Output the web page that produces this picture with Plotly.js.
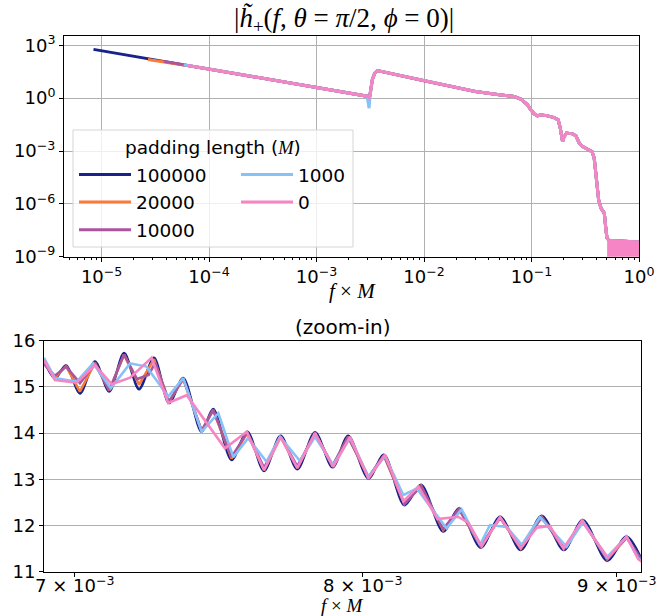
<!DOCTYPE html>
<html><head><meta charset="utf-8">
<script src="https://cdn.plot.ly/plotly-3.0.1.min.js"></script>
<style>html,body{margin:0;padding:0;background:#fff}</style>
</head><body>
<div id="chart" style="width:667px;height:616px"></div>
<script>
// ---------- series ----------
const seriesNames = ['100000', '20000', '10000', '1000', '0'];
const seriesColors = ['#18228a', '#f97b3a', '#a9569f', '#86c1f7', '#f585c4'];

// ---------- top panel: |h+(f)| ----------
const startF = [8.4e-6, 2.7e-5, 3.8e-5, 5.8e-5, 6.3e-5];
const startH = [590, 156, 123, 80, 72];
const lowF = [1e-4, 1e-3, 2.95e-3];
const lowH = [45, 4.1, 1.3];
const dipF = 3.08e-3;
const dipH = [0.85, 0.75, 0.8, 0.27, 1.05];
const highF = [3.15e-3, 3.30e-3, 3.47e-3, 3.68e-3, 1e-2, 3e-2, 5e-2, 6.9e-2, 7.95e-2, 9.18e-2, 9.85e-2,
  0.1057, 0.1137, 0.122, 0.141, 0.1625, 0.177, 0.185, 0.1945, 0.201, 0.212, 0.241, 0.259, 0.278,
  0.299, 0.3326, 0.365, 0.383, 0.3975, 0.421, 0.4426, 0.4753, 0.4926, 0.5035, 0.5285, 0.972, 1.0];
const highH = [1.6, 11, 26, 37, 9.6, 2.4, 1.55, 1.23, 0.88, 0.42, 0.22,
  0.13, 0.099, 0.113, 0.099, 0.079, 0.059, 0.020, 0.0035, 0.0066, 0.0104, 0.0094, 0.0073, 0.0028,
  0.0018, 0.00128, 0.00093, 0.0004, 3.5e-5, 1.7e-6, 5.8e-7, 3.0e-7, 3.4e-8, 1.15e-8, 8.3e-9, 6.8e-9, 6.8e-9];
const noiseF = [0.505, 0.53, 0.6, 0.7, 0.8, 0.9, 1.0];
const noiseHi = [9e-9, 8.3e-9, 7.8e-9, 7.4e-9, 7.0e-9, 6.9e-9, 6.8e-9];
const noiseLo = [1e-10, 1e-10, 1e-10, 1e-10, 1e-10, 1e-10, 1e-10];

// ---------- bottom panel: zoom-in ----------
const zF_100000 = [6.900e-3, 6.936e-3, 6.972e-3, 7.017e-3, 7.066e-3, 7.113e-3, 7.162e-3, 7.212e-3, 7.262e-3,
  7.313e-3, 7.361e-3, 7.424e-3, 7.464e-3, 7.528e-3, 7.583e-3, 7.642e-3, 7.701e-3, 7.761e-3, 7.825e-3,
  7.889e-3, 7.946e-3, 8.021e-3, 8.079e-3, 8.156e-3, 8.219e-3, 8.304e-3, 8.365e-3, 8.450e-3, 8.526e-3,
  8.608e-3, 8.692e-3, 8.782e-3, 8.859e-3, 8.960e-3, 9.041e-3, 9.118e-3];
const zH_100000 = [15.58, 15.19, 15.47, 14.86, 15.55, 14.90, 15.73, 14.95, 15.63,
  14.65, 15.19, 14.03, 14.52, 13.42, 14.03, 13.18, 13.94, 13.22, 14.02,
  13.26, 13.94, 13.02, 13.53, 12.44, 12.88, 11.87, 12.37, 11.52, 12.19,
  11.47, 12.21, 11.47, 12.12, 11.24, 11.76, 11.10];

const zF_20000 = zF_100000.slice();
const zH_20000 = [15.55, 15.20, 15.45, 14.90, 15.52, 14.92, 15.70, 15.05, 15.60,
  14.68, 15.17, 14.05, 14.50, 13.45, 14.00, 13.20, 13.92, 13.25, 14.00,
  13.28, 13.92, 13.04, 13.51, 12.47, 12.86, 11.90, 12.35, 11.55, 12.17,
  11.50, 12.19, 11.50, 12.10, 11.27, 11.74, 11.12];

const zF_10000 = [6.900e-3, 6.936e-3, 6.972e-3, 7.017e-3, 7.066e-3, 7.113e-3, 7.162e-3, 7.205e-3, 7.244e-3, 7.266e-3,
  7.313e-3, 7.361e-3, 7.424e-3, 7.464e-3, 7.528e-3, 7.583e-3, 7.642e-3, 7.701e-3, 7.761e-3, 7.825e-3,
  7.889e-3, 7.946e-3, 8.021e-3, 8.079e-3, 8.156e-3, 8.219e-3, 8.304e-3, 8.365e-3, 8.450e-3, 8.526e-3,
  8.608e-3, 8.692e-3, 8.782e-3, 8.859e-3, 8.960e-3, 9.041e-3, 9.118e-3];
const zH_10000 = [15.50, 15.24, 15.44, 15.08, 15.50, 14.93, 15.70, 15.17, 15.26, 15.52,
  14.68, 15.18, 14.05, 14.50, 13.48, 14.02, 13.25, 13.93, 13.28, 14.00,
  13.30, 13.92, 13.05, 13.52, 12.47, 12.85, 11.92, 12.36, 11.55, 12.17,
  11.52, 12.18, 11.50, 12.10, 11.28, 11.74, 11.15];

const zF_1000 = [6.901e-3, 6.936e-3, 7.006e-3, 7.060e-3, 7.118e-3, 7.182e-3, 7.237e-3, 7.310e-3, 7.361e-3,
  7.424e-3, 7.482e-3, 7.534e-3, 7.586e-3, 7.651e-3, 7.699e-3, 7.770e-3, 7.825e-3, 7.891e-3, 7.953e-3,
  8.021e-3, 8.083e-3, 8.152e-3, 8.203e-3, 8.317e-3, 8.375e-3, 8.447e-3, 8.486e-3, 8.552e-3, 8.612e-3,
  8.685e-3, 8.793e-3, 8.861e-3, 8.958e-3, 9.041e-3, 9.090e-3, 9.115e-3];
const zH_1000 = [15.63, 15.19, 15.11, 15.51, 14.97, 15.51, 15.44, 14.79, 15.19,
  14.03, 14.43, 13.48, 13.89, 13.38, 13.92, 13.40, 13.92, 13.31, 13.89,
  13.06, 13.50, 12.66, 12.80, 11.94, 12.35, 11.58, 12.01, 11.97, 11.58,
  12.18, 11.54, 12.08, 11.31, 11.76, 11.29, 11.20];

const zF_0 = [6.901e-3, 6.936e-3, 7.006e-3, 7.066e-3, 7.121e-3, 7.182e-3, 7.254e-3, 7.310e-3, 7.373e-3,
  7.505e-3, 7.581e-3, 7.642e-3, 7.701e-3, 7.761e-3, 7.825e-3, 7.891e-3, 7.953e-3, 8.021e-3, 8.083e-3,
  8.152e-3, 8.209e-3, 8.282e-3, 8.361e-3, 8.401e-3, 8.454e-3, 8.526e-3, 8.608e-3, 8.672e-3, 8.725e-3,
  8.780e-3, 8.855e-3, 8.963e-3, 9.041e-3, 9.090e-3, 9.115e-3];
const zH_0 = [15.58, 15.15, 15.09, 15.47, 15.06, 15.20, 15.63, 14.65, 14.82,
  13.67, 14.03, 13.20, 13.92, 13.24, 14.00, 13.27, 13.92, 13.02, 13.53,
  12.52, 12.84, 12.14, 12.19, 12.06, 11.55, 12.18, 11.51, 11.95, 11.99,
  11.50, 12.10, 11.30, 11.76, 11.27, 11.18];

const zoomF = [zF_100000, zF_20000, zF_10000, zF_1000, zF_0];
const zoomH = [zH_100000, zH_20000, zH_10000, zH_1000, zH_0];

// ---------- tick labels ----------
const topXTicks = [1e-5, 1e-4, 1e-3, 1e-2, 1e-1, 1];
const topXText = ['10<sup>\u22125</sup>', '10<sup>\u22124</sup>', '10<sup>\u22123</sup>', '10<sup>\u22122</sup>', '10<sup>\u22121</sup>', '10<sup>0</sup>'];
const topYTicks = [1e-9, 1e-6, 1e-3, 1, 1e3];
const topYText = ['10<sup>\u22129</sup>', '10<sup>\u22126</sup>', '10<sup>\u22123</sup>', '10<sup>0</sup>', '10<sup>3</sup>'];
const botXTicks = [7e-3, 8e-3, 9e-3];
const botXText = ['7 \u00d7 10<sup>\u22123</sup>', '8 \u00d7 10<sup>\u22123</sup>', '9 \u00d7 10<sup>\u22123</sup>'];

// ---------- build traces ----------
const traces = [];
for (let i = 0; i < seriesNames.length; i++) {
  const x = [startF[i]], y = [startH[i]];
  for (let k = 0; k < lowF.length; k++) { if (lowF[k] > startF[i]) { x.push(lowF[k]); y.push(lowH[k]); } }
  x.push(dipF); y.push(dipH[i]);
  x.push(...highF); y.push(...highH);
  traces.push({
    x, y, xaxis: 'x', yaxis: 'y', type: 'scatter', mode: 'lines',
    name: seriesNames[i], line: {color: seriesColors[i], width: 3},
    legend: i < 3 ? 'legend' : 'legend2', legendgroup: 'g' + i, hoverinfo: 'skip'
  });
}
traces.push({
  x: noiseF.concat(noiseF.slice().reverse()), y: noiseHi.concat(noiseLo.slice().reverse()),
  xaxis: 'x', yaxis: 'y', type: 'scatter', mode: 'lines', fill: 'toself',
  fillcolor: seriesColors[4], line: {width: 0, color: seriesColors[4]}, showlegend: false, hoverinfo: 'skip'
});
for (let i = 0; i < seriesNames.length; i++) {
  traces.push({
    x: zoomF[i], y: zoomH[i], xaxis: 'x2', yaxis: 'y2', type: 'scatter', mode: 'lines',
    line: {color: seriesColors[i], width: 2.6, shape: i === 0 ? 'spline' : 'linear', smoothing: 0.8},
    showlegend: false, hoverinfo: 'skip'
  });
}

// minor ticks on top log x axis
const minorVals = [];
for (let d = -6; d < 0; d++) for (let m = 2; m <= 9; m++) minorVals.push(m * Math.pow(10, d));

const W = 667, H = 616;
const px = v => v / W, py = v => 1 - v / H;
const FONT = 'DejaVu Sans, sans-serif';
const SERIF = 'Liberation Serif, DejaVu Serif, serif';
const axBase = {
  showline: true, linecolor: '#000', linewidth: 1, mirror: true,
  ticks: 'outside', ticklen: 4, tickwidth: 1, tickcolor: '#000',
  zeroline: false, gridcolor: '#b0b0b0', gridwidth: 1,
  tickfont: {family: FONT, size: 18, color: '#000'}
};
const legBase = {
  xanchor: 'left', yanchor: 'top', bgcolor: 'rgba(0,0,0,0)', itemwidth: 52,
  font: {family: FONT, size: 18.5, color: '#000'}, tracegroupgap: 0.5, traceorder: 'grouped'
};

const layout = {
  width: W, height: H, margin: {l: 0, r: 0, t: 0, b: 0},
  paper_bgcolor: '#fff', plot_bgcolor: '#fff', showlegend: true,
  xaxis: Object.assign({}, axBase, {
    domain: [px(64), px(639)], anchor: 'y', type: 'log', range: [-5.35, 0],
    tickmode: 'array', tickvals: topXTicks, ticktext: topXText, showgrid: true,
    minor: {tickmode: 'array', tickvals: minorVals, ticks: 'outside', ticklen: 2, tickcolor: '#000', showgrid: false}
  }),
  yaxis: Object.assign({}, axBase, {
    domain: [py(256.7), py(36)], anchor: 'x', type: 'log', range: [-9, 3.53],
    tickmode: 'array', tickvals: topYTicks, ticktext: topYText, showgrid: true
  }),
  xaxis2: Object.assign({}, axBase, {
    domain: [px(44), px(641)], anchor: 'y2', type: 'log', range: [Math.log10(6.901e-3), Math.log10(9.1015e-3)],
    tickmode: 'array', tickvals: botXTicks, ticktext: botXText, showgrid: false, ticklabelstandoff: -6
  }),
  yaxis2: Object.assign({}, axBase, {
    domain: [py(571.7), py(340.7)], anchor: 'x2', range: [11, 16], dtick: 1, showgrid: true
  }),
  legend: Object.assign({}, legBase, {x: px(74), y: py(156)}),
  legend2: Object.assign({}, legBase, {x: px(236), y: py(156)}),
  shapes: [{
    type: 'rect', xref: 'paper', yref: 'paper', x0: px(73), x1: px(353), y0: py(247), y1: py(130),
    fillcolor: 'rgba(255,255,255,0.8)', line: {color: '#d5d5d5', width: 1}, layer: 'above'
  }],
  annotations: [
    {text: '|<i>h\u0303</i><sub>+</sub>(<i>f</i>, <i>\u03b8</i> = <i>\u03c0</i>/2, <i>\u03d5</i> = 0)|',
     xref: 'paper', yref: 'paper', x: px(344), y: py(20), xanchor: 'center', yanchor: 'middle',
     showarrow: false, font: {family: SERIF, size: 27, color: '#000'}},
    {text: '<i>f</i> \u00d7 <i>M</i>', xref: 'paper', yref: 'paper', x: px(352), y: py(291),
     xanchor: 'center', yanchor: 'middle', showarrow: false, font: {family: SERIF, size: 21, color: '#000'}},
    {text: '(zoom-in)', xref: 'paper', yref: 'paper', x: px(342.5), y: py(327),
     xanchor: 'center', yanchor: 'middle', showarrow: false, font: {family: FONT, size: 20, color: '#000'}},
    {text: '<i>f</i> \u00d7 <i>M</i>', xref: 'paper', yref: 'paper', x: px(342.5), y: py(605.5),
     xanchor: 'center', yanchor: 'middle', showarrow: false, font: {family: SERIF, size: 19, color: '#000'}},
    {text: 'padding length (<span style="font-family:Liberation Serif"><i>M</i></span>)', xref: 'paper', yref: 'paper',
     x: px(213), y: py(147), xanchor: 'center', yanchor: 'middle', showarrow: false,
     font: {family: FONT, size: 18.5, color: '#000'}}
  ]
};

Plotly.newPlot('chart', traces, layout, {displayModeBar: false, staticPlot: true});
</script>
</body></html>
